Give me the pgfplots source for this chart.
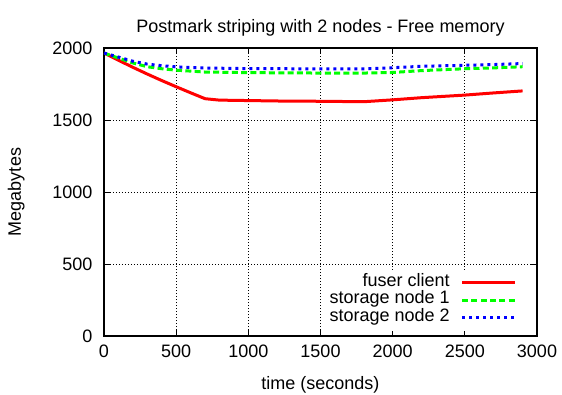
\documentclass[border=0pt]{standalone}
\usepackage{pgfplots}
\pgfplotsset{compat=1.18}
\usepackage{fontspec}
\setmainfont{Liberation Sans}

\pgfplotstableread{
t    mem
0    1965
100  1915
200  1866
300  1819
400  1774
500  1731
600  1689
700  1648
800  1638
1000 1635
1200 1632
1500 1630
1800 1627
2000 1640
2200 1655
2500 1673
2700 1688
2900 1702
}\fuser

\pgfplotstableread{
t    mem
0    1965
100  1930
200  1896
300  1870
400  1856
500  1846
700  1833
1000 1829
1500 1826
1800 1826
2000 1830
2200 1843
2500 1856
2700 1862
2900 1870
}\nodeone

\pgfplotstableread{
t    mem
0    1965
100  1937
200  1908
300  1888
400  1877
500  1869
700  1861
1000 1857
1500 1855
1800 1855
2000 1863
2200 1873
2500 1880
2700 1885
2900 1892
}\nodetwo

\newcommand\chartfont{\fontsize{18}{20}\selectfont}

\begin{document}
\begin{tikzpicture}
\useasboundingbox (-104pt,-58pt) rectangle (458pt,336pt);
\begin{axis}[
  scale only axis,
  width=433pt, height=288pt,
  xmin=0, xmax=3000, ymin=0, ymax=2000,
  xtick={0,500,...,3000}, ytick={0,500,...,2000},
  tick align=inside, major tick length=6pt,
  tick style={black, line width=1pt},
  axis line style={black, line width=1.5pt},
  grid=major,
  major grid style={black, line width=0.9pt, dash pattern=on 1pt off 2pt},
  scaled ticks=false,
  /pgf/number format/assume math mode=true,
  /pgf/number format/1000 sep={},
  tick label style={font=\chartfont},
  xticklabel style={yshift=-5pt},
  yticklabel style={xshift=-8pt},
  label style={font=\chartfont},
  title style={font=\chartfont, yshift=2pt},
  title={Postmark striping with 2 nodes - Free memory},
  xlabel={time (seconds)},
  ylabel={Megabytes},
  xlabel style={yshift=-12pt},
  ylabel style={yshift=21pt},
  legend plot pos=right,
  legend cell align=right,
  legend style={
    at={(0.972,0.229)}, anchor=north east,
    draw=none, fill=white, inner xsep=8pt, inner ysep=4pt,
    font=\chartfont,
    nodes={inner sep=0pt, text height=12pt, text depth=5.5pt},
    row sep=0pt, column sep=11pt,
  },
  legend image code/.code={\draw[#1] (0pt,0pt) -- (53pt,0pt);},
]
\addplot[red, line width=3pt] table[x=t, y=mem] {\fuser};
\addlegendentry{fuser client}
\addplot[green, line width=3pt, dash pattern=on 6pt off 3.3pt] table[x=t, y=mem] {\nodeone};
\addlegendentry{storage node 1}
\addplot[blue, line width=3pt, dash pattern=on 3pt off 4pt] table[x=t, y=mem] {\nodetwo};
\addlegendentry{storage node 2}
\end{axis}
\end{tikzpicture}
\end{document}
